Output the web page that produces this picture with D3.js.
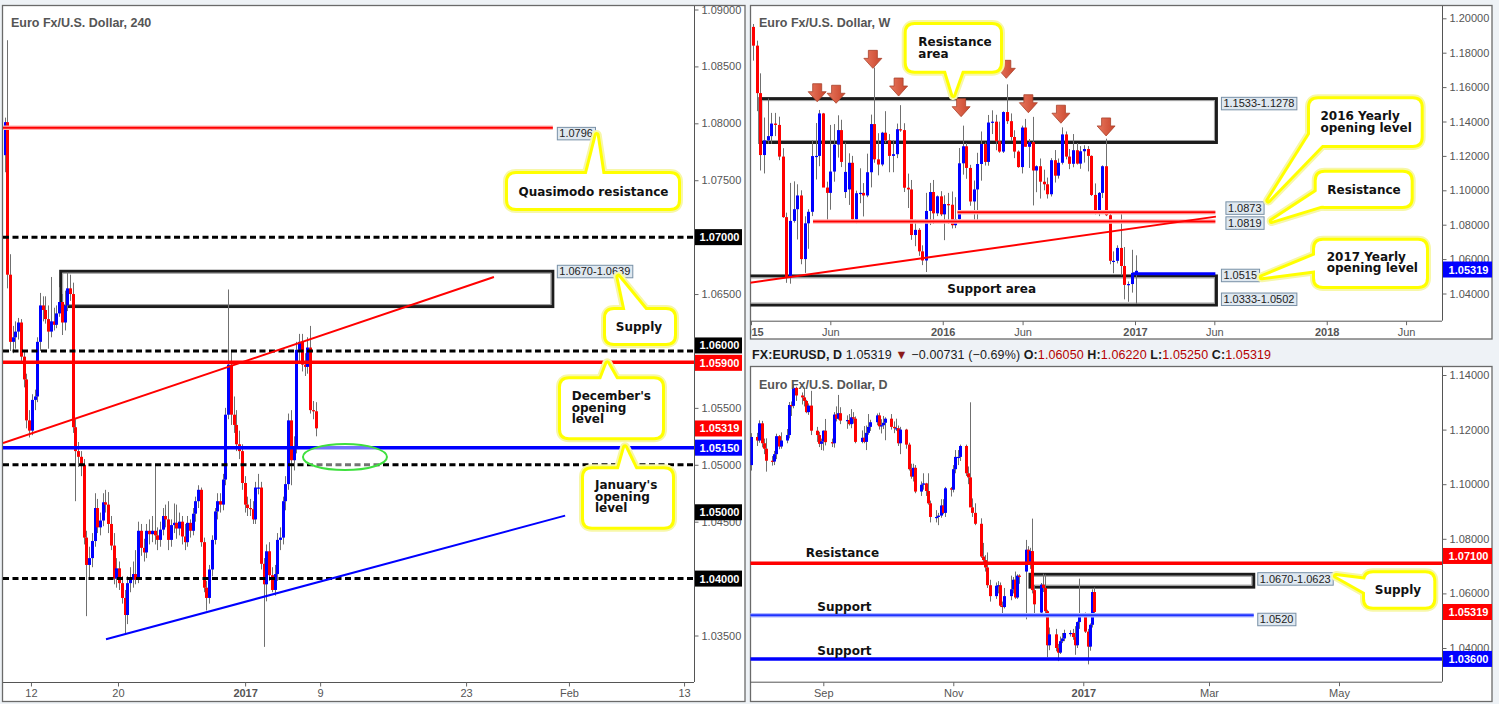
<!DOCTYPE html>
<html><head><meta charset="utf-8">
<script src="https://cdn.jsdelivr.net/npm/d3@7"></script>
<style>
html,body{margin:0;padding:0;background:#eef2f6;}
svg{display:block;}
</style></head><body>
<svg id="chart" width="1499" height="704"></svg>
<script>
// ================= DATA =================
// 4-hour EUR/USD candles [open, high, low, close], 8 Dec 2016 .. 6 Jan 2017
const h4Candles = [
[1.0772,1.0805,1.0757,1.0801],[1.0801,1.0873,1.0655,1.0667],[1.0667,1.0685,1.0600,1.0608],[1.0608,1.0622,1.0598,1.0612],
[1.0612,1.0626,1.0602,1.0617],[1.0617,1.0629,1.0610,1.0625],[1.0625,1.0628,1.0590,1.0595],[1.0595,1.0600,1.0568,1.0575],
[1.0575,1.0580,1.0532,1.0539],[1.0539,1.0548,1.0524,1.0530],[1.0530,1.0562,1.0526,1.0557],[1.0557,1.0566,1.0548,1.0560],
[1.0560,1.0612,1.0555,1.0608],[1.0608,1.0651,1.0600,1.0640],[1.0640,1.0648,1.0626,1.0636],[1.0636,1.0648,1.0624,1.0628],
[1.0628,1.0640,1.0602,1.0617],[1.0617,1.0665,1.0612,1.0626],[1.0626,1.0638,1.0618,1.0623],[1.0623,1.0640,1.0620,1.0633],
[1.0633,1.0656,1.0630,1.0643],[1.0643,1.0650,1.0614,1.0625],[1.0625,1.0653,1.0618,1.0640],[1.0640,1.0669,1.0635,1.0655],
[1.0655,1.0667,1.0644,1.0650],[1.0650,1.0660,1.0528,1.0533],[1.0533,1.0540,1.0468,1.0512],[1.0512,1.0520,1.0498,1.0507],
[1.0507,1.0512,1.0490,1.0500],[1.0500,1.0505,1.0430,1.0436],[1.0436,1.0442,1.0367,1.0412],[1.0412,1.0428,1.0400,1.0418],
[1.0418,1.0440,1.0410,1.0433],[1.0433,1.0475,1.0428,1.0462],[1.0462,1.0470,1.0440,1.0445],[1.0445,1.0458,1.0438,1.0451],
[1.0451,1.0475,1.0446,1.0467],[1.0467,1.0478,1.0458,1.0465],[1.0465,1.0476,1.0440,1.0448],[1.0448,1.0455,1.0425,1.0429],
[1.0429,1.0440,1.0395,1.0400],[1.0400,1.0418,1.0392,1.0409],[1.0409,1.0415,1.0390,1.0396],[1.0396,1.0402,1.0378,1.0383],
[1.0383,1.0390,1.0352,1.0368],[1.0368,1.0402,1.0360,1.0396],[1.0396,1.0410,1.0388,1.0399],[1.0399,1.0415,1.0392,1.0404],
[1.0404,1.0425,1.0395,1.0399],[1.0399,1.0450,1.0396,1.0442],[1.0442,1.0448,1.0420,1.0427],[1.0427,1.0435,1.0415,1.0423],
[1.0423,1.0448,1.0418,1.0442],[1.0442,1.0452,1.0430,1.0439],[1.0439,1.0455,1.0432,1.0442],[1.0442,1.0500,1.0430,1.0438],
[1.0438,1.0445,1.0425,1.0434],[1.0434,1.0450,1.0428,1.0443],[1.0443,1.0462,1.0438,1.0455],[1.0455,1.0465,1.0445,1.0452],
[1.0452,1.0468,1.0425,1.0434],[1.0434,1.0452,1.0428,1.0447],[1.0447,1.0466,1.0440,1.0449],[1.0449,1.0465,1.0435,1.0444],
[1.0444,1.0458,1.0438,1.0450],[1.0450,1.0455,1.0430,1.0437],[1.0437,1.0448,1.0425,1.0432],[1.0432,1.0455,1.0428,1.0449],
[1.0449,1.0452,1.0436,1.0442],[1.0442,1.0462,1.0438,1.0457],[1.0457,1.0472,1.0450,1.0468],[1.0468,1.0482,1.0462,1.0478],
[1.0478,1.0480,1.0428,1.0432],[1.0432,1.0436,1.0388,1.0392],[1.0392,1.0398,1.0372,1.0383],[1.0383,1.0412,1.0378,1.0408],
[1.0408,1.0438,1.0402,1.0434],[1.0434,1.0462,1.0430,1.0459],[1.0459,1.0475,1.0452,1.0468],[1.0468,1.0475,1.0458,1.0465],
[1.0465,1.0492,1.0460,1.0487],[1.0487,1.0550,1.0482,1.0544],[1.0544,1.0654,1.0540,1.0588],[1.0588,1.0600,1.0535,1.0544],
[1.0544,1.0560,1.0528,1.0535],[1.0535,1.0548,1.0512,1.0518],[1.0518,1.0530,1.0505,1.0512],[1.0512,1.0518,1.0478,1.0484],
[1.0484,1.0490,1.0458,1.0465],[1.0465,1.0472,1.0455,1.0462],[1.0462,1.0470,1.0455,1.0461],[1.0461,1.0468,1.0448,1.0452],
[1.0452,1.0485,1.0448,1.0480],[1.0480,1.0492,1.0474,1.0480],[1.0480,1.0485,1.0408,1.0413],[1.0413,1.0418,1.0340,1.0395],
[1.0395,1.0430,1.0380,1.0424],[1.0424,1.0432,1.0398,1.0403],[1.0403,1.0410,1.0388,1.0390],[1.0390,1.0412,1.0385,1.0404],
[1.0404,1.0440,1.0398,1.0434],[1.0434,1.0445,1.0425,1.0436],[1.0436,1.0472,1.0430,1.0468],[1.0468,1.0490,1.0460,1.0483],
[1.0483,1.0545,1.0478,1.0539],[1.0539,1.0548,1.0482,1.0504],[1.0504,1.0525,1.0495,1.0516],[1.0516,1.0608,1.0510,1.0601],
[1.0601,1.0615,1.0590,1.0608],[1.0608,1.0615,1.0582,1.0588],[1.0588,1.0598,1.0578,1.0586],[1.0586,1.0612,1.0580,1.0603],
[1.0603,1.0622,1.0545,1.0548],[1.0548,1.0556,1.0540,1.0547],[1.0547,1.0555,1.0525,1.0532]
];
const h4TickPos = [9.7, 41.6, 88.2, 115.7, 169.2, 206.9, 249.1];
const h4TickLabels = ["12","20","2017","9","23","Feb","13"];
const h4PriceTicks = [1.035,1.04,1.045,1.05,1.055,1.06,1.065,1.07,1.075,1.08,1.085,1.09];
const h4RoundNumbers = [1.07, 1.06, 1.05, 1.04];
const h4Quasimodo = 1.0796;
const h4SupplyZone = [1.0670, 1.0639];
const h4DecemberOpen = 1.0590;
const h4JanuaryOpen = 1.0515;
const lastClose = 1.05319;
const h4UpperTrend = [[-0.55, 1.0519], [179.4, 1.0665]];
const h4LowerTrend = [[37.2, 1.03467], [205.5, 1.04553]];
const h4Zone = [124.8, 1.05068, 15.4, 0.00114];

// Weekly candles [open, high, low, close], week of 5 Jan 2015 .. week of 2 Jan 2017
const weeklyStart = "2015-01-05";
const weeklyCandles = [
[1.1950,1.1967,1.1754,1.1841],[1.1841,1.1870,1.1460,1.1565],[1.1565,1.1680,1.1115,1.1205],[1.1205,1.1423,1.1098,1.1290],
[1.1290,1.1534,1.1270,1.1315],[1.1315,1.1450,1.1270,1.1388],[1.1388,1.1450,1.1315,1.1380],[1.1380,1.1428,1.1175,1.1196],
[1.1196,1.1245,1.0840,1.0844],[1.0844,1.0870,1.0462,1.0494],[1.0494,1.1043,1.0457,1.0822],[1.0822,1.1052,1.0812,1.0890],
[1.0890,1.1035,1.0714,1.0970],[1.0970,1.1000,1.0570,1.0600],[1.0600,1.0849,1.0520,1.0808],[1.0808,1.0890,1.0660,1.0875],
[1.0875,1.1290,1.0850,1.1199],[1.1199,1.1391,1.1063,1.1200],[1.1200,1.1467,1.1140,1.1447],[1.1447,1.1450,1.1050,1.1016],
[1.1016,1.1050,1.0819,1.0985],[1.0985,1.1380,1.0887,1.1109],[1.1109,1.1385,1.1050,1.1266],[1.1266,1.1436,1.1190,1.1350],
[1.1350,1.1410,1.1135,1.1165],[1.0990,1.1278,1.0955,1.1107],[1.1005,1.1215,1.0915,1.1160],[1.1160,1.1200,1.0810,1.0830],
[1.0830,1.0998,1.0808,1.0983],[1.0983,1.1128,1.0925,1.0985],[1.0985,1.1042,1.0848,1.0970],[1.0970,1.1213,1.0960,1.1105],
[1.1105,1.1440,1.1017,1.1385],[1.1385,1.1714,1.1160,1.1180],[1.1180,1.1332,1.1087,1.1150],[1.1150,1.1340,1.1140,1.1335],
[1.1335,1.1460,1.1275,1.1290],[1.1290,1.1327,1.1105,1.1200],[1.1200,1.1290,1.1105,1.1210],[1.1210,1.1388,1.1187,1.1355],
[1.1355,1.1495,1.1340,1.1350],[1.1350,1.1390,1.0990,1.1015],[1.1015,1.1097,1.0897,1.1005],[1.1005,1.1060,1.0712,1.0740],
[1.0740,1.0829,1.0675,1.0770],[1.0770,1.0780,1.0619,1.0645],[1.0645,1.0680,1.0565,1.0592],[1.0592,1.0985,1.0525,1.0880],
[1.0880,1.1043,1.0798,1.0990],[1.0990,1.1060,1.0804,1.0866],[1.0866,1.0970,1.0850,1.0965],[1.0965,1.0995,1.0850,1.0860],
[1.0860,1.0971,1.0710,1.0920],[1.0920,1.0985,1.0805,1.0916],[1.0916,1.0993,1.0778,1.0797],[1.0797,1.0960,1.0780,1.0831],
[1.0831,1.1246,1.0809,1.1157],[1.1157,1.1376,1.1091,1.1256],[1.1256,1.1274,1.1067,1.1130],[1.1130,1.1148,1.0910,1.0935],
[1.0935,1.1057,1.0810,1.1005],[1.1005,1.1218,1.0822,1.1153],[1.1153,1.1342,1.1056,1.1269],[1.1269,1.1279,1.1144,1.1165],
[1.1165,1.1438,1.1143,1.1394],[1.1394,1.1465,1.1327,1.1399],[1.1399,1.1439,1.1233,1.1285],[1.1285,1.1399,1.1218,1.1225],
[1.1225,1.1459,1.1217,1.1455],[1.1455,1.1616,1.1386,1.1402],[1.1402,1.1447,1.1286,1.1310],[1.1310,1.1349,1.1187,1.1225],
[1.1225,1.1232,1.1131,1.1135],[1.1135,1.1376,1.1098,1.1365],[1.1365,1.1415,1.1253,1.1253],[1.1253,1.1298,1.1130,1.1280],
[1.1280,1.1427,1.0912,1.1115],[1.1115,1.1145,1.0989,1.1140],[1.1140,1.1185,1.0952,1.1050],[1.1050,1.1120,1.1000,1.1035],
[1.1035,1.1074,1.0952,1.0977],[1.0977,1.1187,1.0964,1.1175],[1.1175,1.1234,1.1045,1.1085],[1.1085,1.1185,1.1068,1.1160],
[1.1160,1.1366,1.1150,1.1325],[1.1325,1.1342,1.1180,1.1196],[1.1196,1.1240,1.1123,1.1154],[1.1154,1.1327,1.1134,1.1233],
[1.1233,1.1275,1.1150,1.1155],[1.1155,1.1257,1.1125,1.1227],[1.1227,1.1262,1.1161,1.1240],[1.1240,1.1257,1.1110,1.1200],
[1.1200,1.1203,1.0967,1.0973],[1.0973,1.1040,1.0860,1.0880],[1.0880,1.0990,1.0850,1.0985],[1.0985,1.1145,1.0955,1.1140],
[1.1140,1.1300,1.0850,1.0855],[1.0855,1.0875,1.0570,1.0590],[1.0590,1.0645,1.0518,1.0590],[1.0590,1.0680,1.0575,1.0665],
[1.0665,1.0874,1.0505,1.0560],[1.0560,1.0670,1.0366,1.0450],[1.0450,1.0470,1.0352,1.0455],[1.0455,1.0654,1.0405,1.0520],
[1.0520,1.0622,1.0340,1.0532]
];
const weeklyPriceTicks = [1.04,1.06,1.08,1.10,1.12,1.14,1.16,1.18,1.20];
const weeklyTickDates = ["2015-01-01","2015-06-01","2016-01-01","2016-06-01","2017-01-01","2017-06-01","2018-01-01","2018-06-01"];
const wResistanceZone = [1.1533, 1.1278];
const wSupportZone = [1.0333, 1.0502];
const wZoneSpan = [["2015-01-18","2017-06-05"], ["2014-12-20","2017-06-05"]];
const wYearly2016 = 1.0873, wYearly2016From = "2016-01-29";
const wResistance = 1.0819, wResistanceFrom = "2015-04-29";
const wYearly2017 = 1.0515, wYearly2017From = "2016-12-28";
const wLevelsTo = "2017-06-03";
const wTrend = [["2014-12-30", 1.0463], ["2017-06-04", 1.0847]];
const wArrowDates = ["2015-05-07","2015-06-12","2015-08-21","2015-10-09","2016-02-05","2016-05-01","2016-06-12","2016-08-13","2016-11-07"];
const wArrowPrices = [1.1515,1.1506,1.1709,1.1548,1.1428,1.1651,1.1451,1.1390,1.1316];

// Daily candles [open, high, low, close], 29 Jul 2016 .. 6 Jan 2017 (weekdays)
const dailyStart = "2016-07-29";
const dailyCandles = [
[1.1070,1.1187,1.1050,1.1173],
[1.1173,1.1188,1.1140,1.1160],[1.1160,1.1234,1.1152,1.1223],[1.1223,1.1232,1.1135,1.1150],[1.1150,1.1167,1.1110,1.1130],[1.1130,1.1168,1.1046,1.1086],
[1.1086,1.1103,1.1068,1.1083],[1.1083,1.1122,1.1070,1.1110],[1.1110,1.1185,1.1092,1.1176],[1.1176,1.1180,1.1128,1.1138],[1.1138,1.1190,1.1130,1.1160],
[1.1160,1.1202,1.1150,1.1180],[1.1180,1.1301,1.1168,1.1290],[1.1290,1.1303,1.1250,1.1287],[1.1287,1.1366,1.1278,1.1353],[1.1353,1.1357,1.1305,1.1325],
[1.1325,1.1336,1.1292,1.1318],[1.1318,1.1350,1.1285,1.1305],[1.1305,1.1309,1.1260,1.1264],[1.1264,1.1296,1.1254,1.1288],[1.1288,1.1342,1.1180,1.1196],
[1.1196,1.1210,1.1155,1.1180],[1.1180,1.1192,1.1136,1.1148],[1.1148,1.1167,1.1125,1.1157],[1.1157,1.1197,1.1123,1.1196],[1.1196,1.1239,1.1142,1.1154],
[1.1154,1.1167,1.1136,1.1150],[1.1150,1.1264,1.1134,1.1255],[1.1255,1.1285,1.1230,1.1240],[1.1240,1.1327,1.1236,1.1260],[1.1260,1.1282,1.1220,1.1233],
[1.1233,1.1252,1.1203,1.1235],[1.1235,1.1257,1.1215,1.1220],[1.1220,1.1275,1.1205,1.1245],[1.1245,1.1264,1.1222,1.1240],[1.1240,1.1248,1.1150,1.1155],
[1.1155,1.1197,1.1150,1.1170],[1.1170,1.1213,1.1150,1.1155],[1.1155,1.1215,1.1125,1.1188],[1.1188,1.1257,1.1181,1.1210],[1.1210,1.1236,1.1195,1.1227],
[1.1227,1.1259,1.1216,1.1252],[1.1252,1.1262,1.1200,1.1212],[1.1212,1.1238,1.1186,1.1216],[1.1216,1.1250,1.1202,1.1225],[1.1225,1.1245,1.1161,1.1240],
[1.1240,1.1257,1.1200,1.1210],[1.1210,1.1230,1.1187,1.1205],[1.1205,1.1240,1.1195,1.1205],[1.1205,1.1215,1.1140,1.1150],[1.1150,1.1210,1.1110,1.1200],
[1.1200,1.1203,1.1130,1.1145],[1.1145,1.1152,1.1050,1.1055],[1.1055,1.1075,1.1020,1.1028],[1.1028,1.1075,1.1010,1.1060],[1.1060,1.1070,1.0967,1.0973],
[1.0973,1.1010,1.0957,1.0998],[1.0998,1.1040,1.0980,1.1003],[1.1003,1.1005,1.0957,1.0975],[1.0975,1.1040,1.0925,1.0930],[1.0930,1.0940,1.0860,1.0880],
[1.0880,1.0905,1.0860,1.0880],[1.0880,1.0895,1.0850,1.0885],[1.0885,1.0945,1.0877,1.0922],[1.0922,1.0945,1.0890,1.0895],[1.0895,1.0990,1.0880,1.0985],
[1.0985,1.0990,1.0955,1.0980],[1.0980,1.1070,1.0970,1.1055],[1.1055,1.1125,1.1040,1.1100],[1.1100,1.1125,1.1070,1.1100],[1.1100,1.1145,1.1085,1.1140],
[1.1140,1.1145,1.1030,1.1040],[1.1040,1.1065,1.1000,1.1025],[1.1025,1.1300,1.0990,1.0915],[1.0915,1.0948,1.0880,1.0895],[1.0895,1.0930,1.0850,1.0855],
[1.0855,1.0875,1.0730,1.0735],[1.0735,1.0785,1.0710,1.0722],[1.0722,1.0740,1.0680,1.0695],[1.0695,1.0750,1.0620,1.0630],[1.0630,1.0650,1.0570,1.0590],
[1.0590,1.0640,1.0580,1.0628],[1.0628,1.0645,1.0600,1.0630],[1.0630,1.0640,1.0550,1.0555],[1.0555,1.0570,1.0518,1.0550],[1.0550,1.0620,1.0545,1.0590],
[1.0590,1.0665,1.0575,1.0615],[1.0615,1.0660,1.0600,1.0650],[1.0650,1.0680,1.0580,1.0585],[1.0585,1.0670,1.0580,1.0665],[1.0665,1.0670,1.0635,1.0662],
[1.0680,1.0796,1.0505,1.0760],[1.0760,1.0773,1.0705,1.0716],[1.0716,1.0767,1.0690,1.0755],[1.0755,1.0874,1.0600,1.0612],[1.0612,1.0630,1.0525,1.0560],
[1.0530,1.0638,1.0520,1.0632],[1.0632,1.0672,1.0605,1.0620],[1.0620,1.0669,1.0527,1.0535],[1.0535,1.0540,1.0366,1.0410],[1.0410,1.0475,1.0392,1.0450],
[1.0450,1.0470,1.0388,1.0400],[1.0400,1.0415,1.0352,1.0383],[1.0383,1.0442,1.0378,1.0425],[1.0425,1.0455,1.0418,1.0435],[1.0435,1.0467,1.0425,1.0455],
[1.0455,1.0465,1.0442,1.0455],[1.0455,1.0470,1.0430,1.0440],[1.0440,1.0480,1.0375,1.0410],[1.0410,1.0497,1.0400,1.0495],[1.0495,1.0654,1.0470,1.0520],
[1.0520,1.0530,1.0455,1.0460],[1.0460,1.0470,1.0340,1.0405],[1.0405,1.0490,1.0390,1.0485],[1.0485,1.0615,1.0475,1.0605],[1.0605,1.0622,1.0525,1.0532]
];
const dailyPriceTicks = [1.04,1.06,1.08,1.10,1.12,1.14];
const dailyTickDates = ["2016-09-01","2016-11-01","2017-01-01","2017-03-01","2017-05-01"];
const dResistance = 1.0710;
const dSupplyZone = [1.0670, 1.0623];
const dSupplySpan = ["2016-12-07","2017-03-22"];
const dSupport = 1.0520, dSupportTo = "2017-03-22";
const dSupportLow = 1.0360;
const dHeader = {sym:"FX:EURUSD, D", last:"1.05319", chg:"\u22120.00731 (\u22120.69%)", o:"1.06050", h:"1.06220", l:"1.05250", c:"1.05319"};

// ================= DRAWING =================
const P = d => new Date(d + "T00:00:00Z");
const svg = d3.select("#chart");
const defs = svg.append("defs");
const SANS = '"Liberation Sans", Arial, sans-serif';
const BOLD = '"DejaVu Sans", Verdana, sans-serif';

function clip(id, x0, y0, x1, y1) {
  defs.append("clipPath").attr("id", id).append("rect")
    .attr("x", x0).attr("y", y0).attr("width", x1 - x0).attr("height", y1 - y0);
}
const grad = defs.append("linearGradient").attr("id","arr").attr("x1",0).attr("x2",1).attr("y1",0).attr("y2",0);
grad.append("stop").attr("offset","0").attr("stop-color","#e8775e");
grad.append("stop").attr("offset","1").attr("stop-color","#c9452c");

function panel(x, y, w, h) {
  svg.append("rect").attr("x", x).attr("y", y).attr("width", w).attr("height", h)
    .attr("fill", "#fff").attr("stroke", "#6a6a6a").attr("stroke-width", 1.3);
}
panel(2.5, 5.5, 742.5, 696);
panel(750.5, 5.5, 741.5, 333.5);
panel(750.5, 366.5, 741.5, 335);

function candles(g, data, xAt, y, bw) {
  const sel = g.append("g").selectAll("g").data(data).join("g");
  sel.append("line")
    .attr("x1", (d, i) => Math.round(xAt(i)) + 0.5).attr("x2", (d, i) => Math.round(xAt(i)) + 0.5)
    .attr("y1", d => y(d[1])).attr("y2", d => y(d[2]))
    .attr("stroke", "#707070").attr("stroke-width", 1);
  sel.append("rect")
    .attr("x", (d, i) => Math.round(xAt(i)) + 0.5 - bw / 2)
    .attr("y", d => y(Math.max(d[0], d[3])))
    .attr("width", bw)
    .attr("height", d => Math.max(1.2, Math.abs(y(d[0]) - y(d[3]))))
    .attr("fill", d => d[3] >= d[0] ? "#0000ff" : "#ff0000");
}

function hline(g, x0, x1, yv, color, w, dash, halo) {
  if (halo) g.append("line").attr("x1", x0).attr("x2", x1).attr("y1", yv).attr("y2", yv)
    .attr("stroke", halo).attr("stroke-width", w + 2.5);
  const l = g.append("line").attr("x1", x0).attr("x2", x1).attr("y1", yv).attr("y2", yv)
    .attr("stroke", color).attr("stroke-width", w);
  if (dash) l.attr("stroke-dasharray", dash);
}
function zone(g, x0, x1, y0, y1) {
  g.append("rect").attr("x", x0).attr("y", Math.min(y0, y1)).attr("width", x1 - x0).attr("height", Math.abs(y1 - y0))
    .attr("fill", "none").attr("stroke", "#1c1c1c").attr("stroke-width", 3);
  g.append("rect").attr("x", x0 + 2).attr("y", Math.min(y0, y1) + 2).attr("width", x1 - x0 - 4).attr("height", Math.abs(y1 - y0) - 4)
    .attr("fill", "none").attr("stroke", "#9a9a9a").attr("stroke-width", 1);
}
function tag(g, x, yc, text) {
  const t = g.append("text").attr("x", x + 2.5).attr("y", yc + 4).text(text)
    .style("font", "11px " + SANS).attr("fill", "#222");
  const w = t.node().getComputedTextLength();
  g.insert("rect", "text").attr("x", x + 0.5).attr("y", yc - 6).attr("width", w + 4.5).attr("height", 12.5)
    .attr("fill", "#dfe8f0").attr("stroke", "#7890a6").attr("stroke-width", 1);
  t.raise();
}
function priceBox(x, yc, w, text, bg) {
  svg.append("rect").attr("x", x).attr("y", yc - 8).attr("width", w).attr("height", 16).attr("fill", bg);
  svg.append("text").attr("x", x + w / 2 + 1).attr("y", yc + 4).attr("text-anchor", "middle")
    .style("font", "bold 11px " + SANS).attr("fill", "#fff").text(text);
}
function callout(g, r, tri, lines) {
  const [x, y, w, h] = r, k = 8;
  const path = `M${x + k},${y} H${x + w - k} Q${x + w},${y} ${x + w},${y + k} V${y + h - k} Q${x + w},${y + h} ${x + w - k},${y + h} H${x + k} Q${x},${y + h} ${x},${y + h - k} V${y + k} Q${x},${y} ${x + k},${y} Z`;
  const tp = "M" + tri.map(p => p.join(",")).join("L") + "Z";
  const cg = g.append("g");
  [["#f7f7a8", 10], ["#ffff00", 6]].forEach(([c, sw]) => {
    cg.append("path").attr("d", path).attr("fill", "none").attr("stroke", c).attr("stroke-width", sw).attr("stroke-linejoin", "round");
    cg.append("path").attr("d", tp).attr("fill", "none").attr("stroke", c).attr("stroke-width", sw).attr("stroke-linejoin", "round");
  });
  cg.append("path").attr("d", path).attr("fill", "#fff");
  cg.append("path").attr("d", tp).attr("fill", "#fff");
  lines.forEach(l => cg.append("text").attr("x", l[1]).attr("y", l[2]).attr("text-anchor", l[3] || "start")
    .style("font", "bold 12px " + BOLD).attr("fill", "#111").text(l[0]));
}
function boldText(g, x, y, t) {
  g.append("text").attr("x", x).attr("y", y).style("font", "bold 12px " + BOLD).attr("fill", "#111").text(t);
}
function styleAxis(ga) {
  ga.select(".domain").remove();
  ga.selectAll("line").attr("stroke", "#666");
  ga.selectAll("text").style("font", "11px " + SANS).attr("fill", "#555")
    .style("font-weight", function () { return /^\d{4}$/.test(this.textContent) ? "bold" : "normal"; });
}
function axisFrame(x0, x1, y0, y1) {
  svg.append("line").attr("x1", x1 + 0.5).attr("x2", x1 + 0.5).attr("y1", y0).attr("y2", y1).attr("stroke", "#555");
  svg.append("line").attr("x1", x0).attr("x2", x1).attr("y1", y1 + 0.5).attr("y2", y1 + 0.5).attr("stroke", "#555");
}

// ---------- LEFT: 4H ----------
clip("cL", 3, 6, 694, 682);
const xL = d3.scaleLinear().domain([0, 114]).range([4.5, 315.5]);
const yL = d3.scaleLinear().domain([1.035, 1.09]).range([635.5, 9.5]);
const gL = svg.append("g").attr("clip-path", "url(#cL)");
const xEndL = xL(201);
zone(gL, xL(20.6), xEndL, yL(h4SupplyZone[0]), yL(h4SupplyZone[1]));
candles(gL, h4Candles, i => xL(i), yL, 3);
h4RoundNumbers.forEach(v => hline(gL, 3, 694, yL(v), "#000", 3, "6,3.5"));
hline(gL, 3, xEndL, yL(h4Quasimodo), "#ff0000", 2, null, "#ffb0b0");
hline(gL, 3, 694, yL(h4DecemberOpen), "#ff0000", 3.5);
hline(gL, 3, 694, yL(h4JanuaryOpen), "#0000ff", 3.5);
gL.append("line").attr("x1", xL(h4UpperTrend[0][0])).attr("y1", yL(h4UpperTrend[0][1]))
  .attr("x2", xL(h4UpperTrend[1][0])).attr("y2", yL(h4UpperTrend[1][1])).attr("stroke", "#ff0000").attr("stroke-width", 2);
gL.append("line").attr("x1", xL(h4LowerTrend[0][0])).attr("y1", yL(h4LowerTrend[0][1]))
  .attr("x2", xL(h4LowerTrend[1][0])).attr("y2", yL(h4LowerTrend[1][1])).attr("stroke", "#0000ff").attr("stroke-width", 2);
gL.append("ellipse").attr("cx", xL(h4Zone[0])).attr("cy", yL(h4Zone[1]))
  .attr("rx", xL(h4Zone[0] + h4Zone[2]) - xL(h4Zone[0])).attr("ry", yL(h4Zone[1] - h4Zone[3]) - yL(h4Zone[1]))
  .attr("fill", "rgba(255,255,255,0.45)").attr("stroke", "#3ee03e").attr("stroke-width", 2);
tag(gL, xEndL + 4, yL(h4Quasimodo) + 5.5, h4Quasimodo.toFixed(4));
tag(gL, xEndL + 4, yL(h4SupplyZone[0]), h4SupplyZone.map(v => v.toFixed(4)).join("-"));
callout(gL, [508, 174, 170, 34], [[586, 177], [603, 177], [596.7, 135]], [["Quasimodo resistance", 593.5, 195.5, "middle"]]);
callout(gL, [606, 310, 68, 33], [[626, 313], [648, 313], [618.3, 276.7]], [["Supply", 639, 331, "middle"]]);
callout(gL, [561, 379.3, 101, 58], [[600, 382], [618, 382], [607.3, 363.3]], [["December's", 571.7, 400], ["opening", 571.7, 411.7], ["level", 571.7, 423.4]]);
callout(gL, [584, 469.3, 88, 57.4], [[618, 472], [637, 472], [625, 447.3]], [["January's", 595, 489], ["opening", 595, 500.7], ["level", 595, 512.4]]);
svg.append("text").attr("x", 11).attr("y", 27).style("font", "bold 12.5px " + SANS).attr("fill", "#555").text("Euro Fx/U.S. Dollar, 240");

axisFrame(3, 694, 6, 682);
const gLy = svg.append("g").attr("transform", "translate(694.5,0)")
  .call(d3.axisRight(yL).tickValues(h4PriceTicks).tickFormat(d3.format(".5f")).tickSize(4).tickSizeOuter(0));
styleAxis(gLy);
// labels hidden under the round-number price boxes (1.07 / 1.06 / 1.04) are not shown
gLy.selectAll(".tick").filter(d => [1.07, 1.06, 1.04].some(v => Math.abs(v - d) < 1e-9)).select("text").remove();
const gLx = svg.append("g").attr("transform", "translate(0,682.5)")
  .call(d3.axisBottom(xL).tickValues(h4TickPos).tickFormat((d, i) => h4TickLabels[i]).tickSize(4).tickSizeOuter(0));
styleAxis(gLx);
priceBox(695, yL(1.07), 47, "1.07000", "#000");
priceBox(695, yL(1.06) - 5.5, 47, "1.06000", "#000");
priceBox(695, yL(h4DecemberOpen) + 0.5, 47, "1.05900", "#ff0000");
priceBox(695, yL(lastClose), 47, lastClose.toFixed(5), "#ff0000");
priceBox(695, yL(h4JanuaryOpen), 47, "1.05150", "#0000ff");
priceBox(695, yL(1.05) + 47.5, 47, "1.05000", "#000");
priceBox(695, yL(1.04), 47, "1.04000", "#000");

// ---------- TOP RIGHT: WEEKLY ----------
clip("cW", 750.5, 6, 1442, 320.7);
const xW = d3.scaleUtc().domain([P("2015-01-01"), P("2017-01-01")]).range([751, 1135]);
const yW = d3.scaleLinear().domain([1.04, 1.20]).range([293.5, 18.3]);
const w0 = P(weeklyStart);
const wDate = i => new Date(w0.getTime() + i * 7 * 864e5);
const gW = svg.append("g").attr("clip-path", "url(#cW)");
zone(gW, xW(P(wZoneSpan[0][0])), xW(P(wZoneSpan[0][1])), yW(wResistanceZone[0]), yW(wResistanceZone[1]));
zone(gW, xW(P(wZoneSpan[1][0])), xW(P(wZoneSpan[1][1])), yW(wSupportZone[0]), yW(wSupportZone[1]));
candles(gW, weeklyCandles, i => xW(wDate(i)), yW, 3);
hline(gW, xW(P(wYearly2016From)), xW(P(wLevelsTo)), yW(wYearly2016), "#ff0000", 2, null, "#ffb8b8");
hline(gW, xW(P(wResistanceFrom)), xW(P(wLevelsTo)), yW(wResistance), "#ff0000", 2, null, "#ffb8b8");
gW.append("line").attr("x1", xW(P(wTrend[0][0]))).attr("y1", yW(wTrend[0][1]))
  .attr("x2", xW(P(wTrend[1][0]))).attr("y2", yW(wTrend[1][1])).attr("stroke", "#ff0000").attr("stroke-width", 2);
hline(gW, xW(P(wYearly2017From)), xW(P(wLevelsTo)), yW(wYearly2017), "#0000ff", 3);
gW.append("g").selectAll("path").data(wArrowDates).join("path")
  .attr("transform", (d, i) => `translate(${xW(P(d))},${yW(wArrowPrices[i])})`)
  .attr("d", "M-4.5,-18 L4.5,-18 L4.5,-10 L9,-10 L0,0 L-9,-10 L-4.5,-10 Z")
  .attr("fill", "url(#arr)").attr("stroke", "#a8412b").attr("stroke-width", 0.8);
boldText(gW, 947.3, 292.7, "Support area");
const xZW = xW(P(wZoneSpan[0][1]));
tag(gW, xZW + 4.5, yW(wResistanceZone[0]) + 4.7, wResistanceZone.map(v => v.toFixed(4)).join("-"));
tag(gW, xZW + 9, yW(wYearly2016) - 4.3, wYearly2016.toFixed(4));
tag(gW, xZW + 9, yW(wResistance) + 1.4, wResistance.toFixed(4));
tag(gW, xZW + 4.5, yW(wYearly2017) + 1.5, wYearly2017.toFixed(4));
tag(gW, xZW + 4.5, yW(wSupportZone[0]) - 6, wSupportZone.map(v => v.toFixed(4)).join("-"));
callout(gW, [906.7, 25, 93.3, 45.7], [[945, 68], [963, 68], [953.3, 95]], [["Resistance", 918.3, 46], ["area", 918.3, 57.6]]);
callout(gW, [1310, 99.3, 110.7, 45.7], [[1312, 131], [1324, 143], [1268.3, 200.5]], [["2016 Yearly", 1320.5, 120], ["opening level", 1320.5, 131.5]]);
callout(gW, [1316.7, 172.7, 94, 33.3], [[1319, 190], [1327, 204], [1271.7, 221]], [["Resistance", 1364, 193.5, "middle"]]);
callout(gW, [1315, 240.7, 111, 45.3], [[1318, 254], [1318, 270], [1261.7, 277.3]], [["2017 Yearly", 1326.7, 260.7], ["opening level", 1326.7, 272.2]]);
svg.append("text").attr("x", 759).attr("y", 27).style("font", "bold 12.5px " + SANS).attr("fill", "#555").text("Euro Fx/U.S. Dollar, W");

axisFrame(750.5, 1442, 6, 320.7);
const gWy = svg.append("g").attr("transform", "translate(1442.5,0)")
  .call(d3.axisRight(yW).tickValues(weeklyPriceTicks).tickFormat(d3.format(".5f")).tickSize(4).tickSizeOuter(0));
styleAxis(gWy);
clip("cWx", 750.5, 320, 1492, 340);
const gWx = svg.append("g").attr("clip-path", "url(#cWx)").append("g").attr("transform", "translate(0,321.2)")
  .call(d3.axisBottom(xW).tickValues(weeklyTickDates.map(P))
    .tickFormat(d => d.getUTCMonth() === 0 ? d3.utcFormat("%Y")(d) : d3.utcFormat("%b")(d)).tickSize(4).tickSizeOuter(0));
styleAxis(gWx);
priceBox(1443, yW(lastClose) - 1.3, 49, lastClose.toFixed(5), "#0000ff");

// ---------- BOTTOM RIGHT: DAILY ----------
const hdr = svg.append("text").attr("x", 752).attr("y", 358.5).style("font", "12.5px " + SANS).attr("fill", "#1a1a1a")
  .attr("textLength", 519).attr("lengthAdjust", "spacing");
hdr.append("tspan").attr("font-weight", "bold").text(dHeader.sym);
hdr.append("tspan").text(" " + dHeader.last + " ");
hdr.append("tspan").attr("fill", "#8b1a1a").text("\u25BC");
hdr.append("tspan").text(" " + dHeader.chg + " ");
[["O:", dHeader.o], [" H:", dHeader.h], [" L:", dHeader.l], [" C:", dHeader.c]].forEach(([k, v]) => {
  hdr.append("tspan").attr("font-weight", "bold").text(k);
  hdr.append("tspan").attr("fill", "#b40000").text(v);
});

clip("cD", 750.5, 367, 1442, 681.7);
const xD = d3.scaleUtc().domain([P("2016-09-01"), P("2017-05-01")]).range([823.3, 1339]);
const yD = d3.scaleLinear().domain([1.04, 1.14]).range([648, 375]);
const dDates = [];
{ let t = P(dailyStart).getTime();
  while (dDates.length < dailyCandles.length) { const d = new Date(t); const wd = d.getUTCDay(); if (wd !== 0 && wd !== 6) dDates.push(d); t += 864e5; } }
const gD = svg.append("g").attr("clip-path", "url(#cD)");
zone(gD, xD(P(dSupplySpan[0])), xD(P(dSupplySpan[1])), yD(dSupplyZone[0]), yD(dSupplyZone[1]));
candles(gD, dailyCandles, i => xD(dDates[i]), yD, 3);
hline(gD, 750, 1442, yD(dResistance), "#ff0000", 3.5);
hline(gD, 750, xD(P(dSupportTo)), yD(dSupport), "#1e32ff", 2, null, "#b0b8ff");
hline(gD, 750, 1442, yD(dSupportLow), "#0000ff", 3.5);
boldText(gD, 805.7, 557.3, "Resistance");
boldText(gD, 817.3, 610.7, "Support");
boldText(gD, 817.3, 655, "Support");
const xSD = xD(P(dSupplySpan[1]));
tag(gD, xSD + 3.5, yD(dSupplyZone[0]) + 4.4, dSupplyZone.map(v => v.toFixed(4)).join("-"));
tag(gD, xSD + 3.5, yD(dSupport) + 4, dSupport.toFixed(4));
callout(gD, [1365, 573.3, 68.3, 33.4], [[1368, 580], [1368, 594], [1336, 576]], [["Supply", 1398, 594, "middle"]]);
svg.append("text").attr("x", 759).attr("y", 388.5).style("font", "bold 12.5px " + SANS).attr("fill", "#555").text("Euro Fx/U.S. Dollar, D");

axisFrame(750.5, 1442, 367, 681.7);
const gDy = svg.append("g").attr("transform", "translate(1442.5,0)")
  .call(d3.axisRight(yD).tickValues(dailyPriceTicks).tickFormat(d3.format(".5f")).tickSize(4).tickSizeOuter(0));
styleAxis(gDy);
const gDx = svg.append("g").attr("transform", "translate(0,682.2)")
  .call(d3.axisBottom(xD).tickValues(dailyTickDates.map(P))
    .tickFormat(d => d.getUTCMonth() === 0 ? d3.utcFormat("%Y")(d) : d3.utcFormat("%b")(d)).tickSize(4).tickSizeOuter(0));
styleAxis(gDx);
priceBox(1443, yD(dResistance) - 7.4, 49, "1.07100", "#ff0000");
priceBox(1443, yD(lastClose), 49, lastClose.toFixed(5), "#ff0000");
priceBox(1443, yD(dSupportLow), 49, "1.03600", "#0000ff");
</script></body></html>
